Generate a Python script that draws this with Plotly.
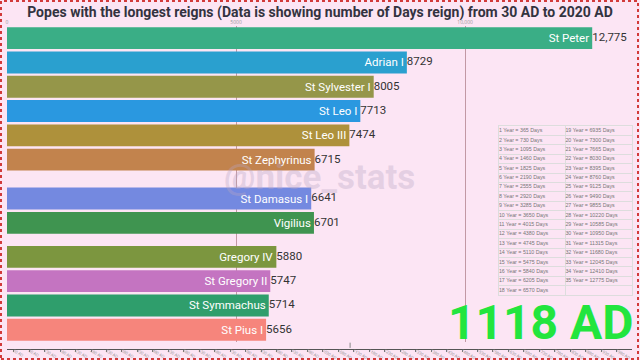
import plotly.graph_objects as go

# ---------------- data ----------------
names = ["St Peter", "Adrian I", "St Sylvester I", "St Leo I", "St Leo III",
         "St Zephyrinus", "St Damasus I", "Vigilius", "Gregory IV",
         "St Gregory II", "St Symmachus", "St Pius I"]
days = [12775, 8729, 8005, 7713, 7474, 6715, 6641, 6701, 5880, 5747, 5714, 5656]
# animated rank of each bar in this frame of the race
ranks = [1, 2, 3, 4, 5, 6, 7.6, 8.6, 10, 11, 12, 13]
colors = ["#3aae86", "#2aa0cf", "#959649", "#2a98e0", "#ae913b", "#c2834d",
          "#7489e0", "#3f9450", "#7c963f", "#c474c1", "#2f9e6c", "#f6857c"]

top_ticks = [0, 5000, 10000]
top_tick_text = ["0", "5000", "10,000"]

timeline_ticks = [30, 80, 130, 180, 230, 280, 330, 380, 430, 480, 530, 580, 630, 680,
                  730, 780, 830, 880, 930, 980, 1030, 1080, 1130, 1180, 1230, 1280,
                  1330, 1380, 1430, 1480, 1530, 1580, 1630, 1680, 1730, 1780, 1830,
                  1880, 1930, 1980]
timeline_text = [f"{t} AD" for t in timeline_ticks]
current_year = 1118

table_col1 = ["1 Year = 365 Days", "2 Year = 730 Days", "3 Year = 1095 Days",
              "4 Year = 1460 Days", "5 Year = 1825 Days", "6 Year = 2190 Days",
              "7 Year = 2555 Days", "8 Year = 2920 Days", "9 Year = 3285 Days",
              "10 Year = 3650 Days", "11 Year = 4015 Days", "12 Year = 4380 Days",
              "13 Year = 4745 Days", "14 Year = 5110 Days", "15 Year = 5475 Days",
              "16 Year = 5840 Days", "17 Year = 6205 Days", "18 Year = 6570 Days"]
table_col2 = ["19 Year = 6935 Days", "20 Year = 7300 Days", "21 Year = 7665 Days",
              "22 Year = 8030 Days", "23 Year = 8395 Days", "24 Year = 8760 Days",
              "25 Year = 9125 Days", "26 Year = 9490 Days", "27 Year = 9855 Days",
              "28 Year = 10220 Days", "29 Year = 10585 Days", "30 Year = 10950 Days",
              "31 Year = 11315 Days", "32 Year = 11680 Days", "33 Year = 12045 Days",
              "34 Year = 12410 Days", "35 Year = 12775 Days", ""]

value_text = [f"{v:,}" if v >= 10000 else str(v) for v in days]

LABEL_FONT = "Roboto, Arial, sans-serif"
BG = "#fce5f4"

fig = go.Figure()

fig.add_trace(go.Bar(
    x=days, y=ranks, orientation="h", width=0.9,
    marker=dict(color=colors, line=dict(width=0)),
    text=names, textposition="inside", insidetextanchor="end",
    textangle=0, constraintext="none",
    insidetextfont=dict(family=LABEL_FONT, size=11.5, color="white"),
    hoverinfo="skip", showlegend=False,
))

fig.add_trace(go.Scatter(
    x=days, y=ranks, mode="text", text=value_text,
    textposition="middle right",
    textfont=dict(family=LABEL_FONT, size=11.5, color="#333333"),
    hoverinfo="skip", showlegend=False,
))

# timeline axis at the bottom
fig.add_trace(go.Scatter(
    x=[current_year], y=[0.6], xaxis="x2", yaxis="y2", mode="markers",
    marker=dict(symbol="line-ns", size=4, line=dict(width=1, color="#888888")),
    hoverinfo="skip", showlegend=False,
))

# year -> days reference table, drawn on its own little grid
n_rows = len(table_col1)
tab_x = [0] * n_rows + [1] * n_rows
tab_y = [i + 0.5 for i in range(n_rows)] * 2
fig.add_trace(go.Scatter(
    x=tab_x, y=tab_y, xaxis="x3", yaxis="y3", mode="text",
    text=table_col1 + table_col2, textposition="middle right",
    textfont=dict(family="Arial, Liberation Sans, sans-serif", size=5.3, color="#777777"),
    hoverinfo="skip", showlegend=False,
))

fig.update_layout(
    width=640, height=360,
    margin=dict(l=7, r=8, t=26, b=11, autoexpand=False),
    paper_bgcolor=BG, plot_bgcolor=BG,
    title=dict(text="Popes with the longest reigns (Data is showing number of Days reign) from 30 AD to 2020 AD",
               x=0.5, xanchor="center", y=1 - 12 / 360, yanchor="middle", yref="container",
               font=dict(family="Roboto, Arial, sans-serif", size=14, color="#333340", weight="bold")),
    xaxis=dict(side="top", range=[0, max(days) * 1.068], tickvals=top_ticks, ticktext=top_tick_text,
               tickfont=dict(size=5, color="#999999"), showgrid=True,
               gridcolor="rgba(170,120,130,0.7)", gridwidth=1, zeroline=False,
               showline=False, ticks="", fixedrange=True, automargin=False),
    yaxis=dict(range=[13.5, 0.5], domain=[0.022, 1], visible=False, fixedrange=True),
    xaxis2=dict(range=[8, 2030], anchor="y2", tickvals=timeline_ticks, ticktext=timeline_text,
                tickfont=dict(size=4, color="#888888"), ticks="outside", ticklen=2,
                ticklabelstandoff=-5,
                tickcolor="#777777", showline=True, linecolor="#555555", linewidth=1,
                showgrid=False, zeroline=False, automargin=False),
    yaxis2=dict(domain=[0, 0.02], range=[0, 1], visible=False),
    xaxis3=dict(domain=[0.787, 1.0], range=[0, 2], anchor="y3", tickvals=[0, 1, 2],
                showticklabels=False, ticks="", showgrid=True, gridcolor="#dddddd",
                showline=True, mirror=True, linecolor="#dddddd", zeroline=False, automargin=False),
    yaxis3=dict(domain=[0.167, 0.69], range=[n_rows, 0], anchor="x3",
                tickvals=list(range(n_rows + 1)), showticklabels=False, ticks="",
                showgrid=True, gridcolor="#dddddd", showline=True, mirror=True,
                linecolor="#dddddd", zeroline=False, automargin=False),
    shapes=[
        dict(type="rect", xref="paper", yref="paper", x0=-6 / 625, x1=1 + 6 / 625,
             y0=-10 / 323, y1=1 + 25 / 323,
             line=dict(color="#d23a3a", width=2, dash="dot")),
        dict(type="rect", xref="x3 domain", yref="y3 domain", x0=0, x1=1, y0=0, y1=1,
             fillcolor="white", line=dict(width=0), layer="below"),
    ],
    annotations=[
        dict(text="<b>@nice_stats</b>", xref="paper", yref="paper", x=0.5, y=0.53,
             showarrow=False, font=dict(family="Roboto, Arial", size=35, color="rgba(185,165,195,0.35)")),
        dict(text="<b>1118 AD</b>", xref="paper", yref="paper", x=1.0, y=0.083, xshift=4,
             xanchor="right", yanchor="middle", showarrow=False,
             font=dict(family="Roboto, Arial", size=48, color="#22e53e")),
    ],
)

fig.write_html("out.html", config={"displayModeBar": False},
               post_script="document.body.style.margin='0';")
